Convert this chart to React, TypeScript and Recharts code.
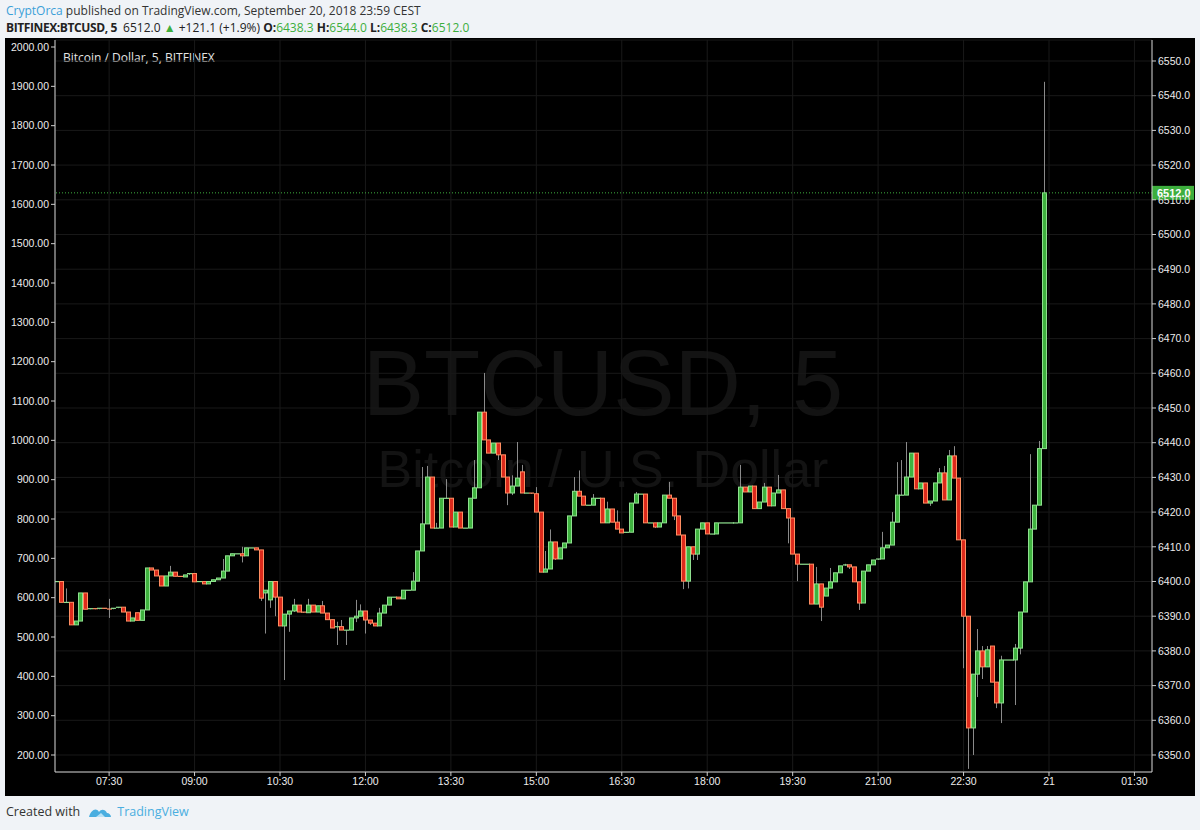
import React from 'react';
import { ComposedChart, Bar, XAxis, YAxis, CartesianGrid, ReferenceLine } from 'recharts';

// 5 minute candles, first one opens 06:35
const startMinute = 395;
const stepMinutes = 5;
const firstOpen = 6400;

const closes = [
  6400, 6394, 6394, 6387.5, 6388.6, 6396.7, 6392, 6392.2, 6392, 6392.3,
  6392.1, 6392, 6392.3, 6392.6, 6391.2, 6388.6, 6389.5, 6388.8, 6391.8, 6403.9,
  6403.3, 6401.6, 6398.7, 6401.6, 6402.7, 6401.5, 6401.3, 6401.9, 6402.3, 6399.9,
  6400, 6399.3, 6400, 6400.5, 6401, 6403, 6407.4, 6408, 6408, 6407.4,
  6409.7, 6409.7, 6409.1, 6395.2, 6397.5, 6400, 6395.5, 6387.2, 6390.6, 6391.5,
  6393.2, 6391.2, 6391, 6393.2, 6391.2, 6393, 6390.9, 6389, 6386.6, 6387,
  6386, 6386, 6389.5, 6390, 6391.5, 6388.9, 6388, 6387.2, 6390.9, 6393.2,
  6395.5, 6395.5, 6395, 6397.5, 6397.5, 6400.1, 6408.8, 6416.6, 6430.1, 6415.4,
  6415.4, 6424, 6424, 6415.7, 6420, 6415.4, 6415.4, 6424, 6427, 6448.8,
  6440.8, 6437, 6439.9, 6436.5, 6430.1, 6425.5, 6427.5, 6429.8, 6425.5, 6425.5,
  6425.3, 6420, 6402.7, 6403.6, 6411.4, 6406.5, 6409.7, 6411.1, 6418.9, 6426,
  6424.6, 6422, 6422, 6424, 6424, 6416.9, 6420.9, 6417.1, 6415.1, 6414,
  6414.2, 6422.6, 6425.2, 6425.2, 6416.9, 6416.9, 6415.7, 6416.9, 6424.9, 6424,
  6418.9, 6413.4, 6400.1, 6410, 6407.9, 6415.1, 6416.9, 6413.7, 6413.7, 6416.9,
  6416.9, 6416.9, 6416.9, 6416.9, 6427.2, 6425.8, 6427.5, 6421, 6422.9, 6427.2,
  6421.8, 6425.5, 6426.4, 6421, 6418.3, 6407.9, 6405, 6405, 6405, 6393.5,
  6399.3, 6392.6, 6398.1, 6399.9, 6402.5, 6404.5, 6404.8, 6404.2, 6399.9, 6393.8,
  6403, 6404.8, 6406.2, 6406.5, 6409.7, 6410.5, 6417.1, 6424.9, 6424.9, 6430.1,
  6437, 6426.7, 6428.4, 6422.6, 6423.2, 6428.4, 6431.3, 6423.5, 6436.2, 6429.8,
  6412, 6390, 6357.8, 6373.3, 6380, 6375.4, 6380.3, 6371, 6365, 6377.4,
  6377.4, 6377.4, 6380.8, 6391.2, 6399.9, 6415.1, 6422, 6438.3, 6512,
];

// opens that do not sit on the previous close: [candle index, open]
const openGaps: [number, number][] = [
  [17, 6391], [44, 6396.7], [45, 6394.7], [98, 6431.6], [162, 6395.8], [197, 6381.4],
];

// wick ends: [candle index, price]
const wickHighs: [number, number][] = [
  [2, 6398], [11, 6395], [24, 6404.5], [35, 6406.5], [39, 6410], [47, 6394.7],
  [50, 6395], [53, 6395], [56, 6394.4], [59, 6388.4], [60, 6388.9], [63, 6394.7],
  [64, 6393.4], [68, 6392.4], [75, 6402.7], [77, 6433], [78, 6433.3], [80, 6416.9],
  [82, 6429.5], [88, 6435], [90, 6460.1], [96, 6430.6], [97, 6440.2], [98, 6433.6],
  [101, 6427.2], [103, 6408.8], [104, 6415], [109, 6430.1], [110, 6432], [113, 6425.2],
  [116, 6423], [118, 6420.5], [122, 6425.8], [129, 6428.7], [144, 6433.6], [149, 6428.4],
  [152, 6430.7], [160, 6404.2], [163, 6403.9], [166, 6405.1], [174, 6414.3], [176, 6420],
  [177, 6434.4], [178, 6435], [179, 6440.2], [186, 6432.7], [187, 6433.3], [188, 6437.9],
  [189, 6439], [194, 6386.3], [195, 6381.4], [196, 6381.4], [199, 6378.6], [202, 6382],
  [205, 6436.7], [207, 6440.5], [208, 6544],
];

const wickLows: [number, number][] = [
  [11, 6389.5], [39, 6405.5], [43, 6394.4], [44, 6385], [45, 6392.4], [46, 6390],
  [48, 6371.6], [49, 6385.5], [50, 6391.2], [59, 6381.7], [61, 6381.7], [63, 6388.3],
  [65, 6385], [66, 6387.5], [93, 6435], [95, 6422], [96, 6424.9], [105, 6406.2],
  [109, 6419.7], [126, 6415.4], [130, 6417.7], [132, 6397.8], [133, 6398], [134, 6406.2],
  [135, 6406.2], [154, 6411], [156, 6400.1], [161, 6388.6], [167, 6403.6], [169, 6391.8],
  [184, 6421.8], [191, 6375], [192, 6346], [193, 6350], [194, 6366.7], [195, 6371.9],
  [198, 6363.5], [199, 6359.2], [202, 6364.4], [203, 6379],
];

const lastPrice = 6512;
const priceTicks = [
  6350, 6360, 6370, 6380, 6390, 6400, 6410, 6420, 6430, 6440, 6450,
  6460, 6470, 6480, 6490, 6500, 6510, 6520, 6530, 6540, 6550,
];
const leftTicks = [
  200, 300, 400, 500, 600, 700, 800, 900, 1000, 1100, 1200, 1300, 1400,
  1500, 1600, 1700, 1800, 1900, 2000,
];
const timeTicks = [450, 540, 630, 720, 810, 900, 990, 1080, 1170, 1260, 1350, 1440, 1530];
const timeLabels = ['07:30', '09:00', '10:30', '12:00', '13:30', '15:00', '16:30', '18:00', '19:30', '21:00', '22:30', '21', '01:30'];

const highMap = new Map(wickHighs);
const lowMap = new Map(wickLows);
const openMap = new Map(openGaps);

const candles = closes.map((c, i) => {
  const o = openMap.get(i) ?? (i === 0 ? firstOpen : closes[i - 1]);
  const h = Math.max(o, c, highMap.get(i) ?? -Infinity);
  const l = Math.min(o, c, lowMap.get(i) ?? Infinity);
  return { t: startMinute + i * stepMinutes, o, h, l, c, range: [l, h > l ? h : h + 0.01] };
});

const UP = '#3fb23f';
const UP_EDGE = '#8fe08f';
const DOWN = '#dc2a1c';
const DOWN_EDGE = '#ff8e62';
const ARIAL = 'Liberation Sans, Arial, sans-serif';

const Candle = (props: any) => {
  const { x, y, width, height, payload } = props;
  if (!payload) return null;
  const { o, c, h, l, range } = payload;
  const top = Math.min(y, y + height);
  const k = Math.abs(height) / (range[1] - range[0]);
  const yOf = (v: number) => top + (range[1] - v) * k;
  const cx = Math.round(x + width / 2) + 0.5;
  const up = c >= o;
  const bTop = yOf(Math.max(o, c));
  const bBot = yOf(Math.min(o, c));
  return (
    <g>
      <line x1={cx} x2={cx} y1={yOf(h)} y2={yOf(l)} stroke="#8a8a8a" strokeWidth={1} />
      {bBot - bTop < 1.5 ? (
        <rect x={cx - 2.5} y={bTop - 0.5} width={5} height={1.2} fill={up ? UP_EDGE : DOWN_EDGE} />
      ) : (
        <rect x={cx - 2} y={bTop} width={4} height={bBot - bTop} fill={up ? UP : DOWN}
          stroke={up ? UP_EDGE : DOWN_EDGE} strokeWidth={1} />
      )}
    </g>
  );
};

const PriceTag = (props: any) => {
  const vb = props.viewBox;
  if (!vb) return null;
  const x = vb.x + vb.width;
  return (
    <g>
      <rect x={x} y={vb.y - 7} width={42} height={14} fill="#3dae3d" />
      <text x={x + 5} y={vb.y + 4} fill="#ffffff" fontSize={11} fontWeight="bold" fontFamily={ARIAL}>
        {lastPrice.toFixed(1)}
      </text>
    </g>
  );
};

const axisFont = { fill: '#ececec', fontSize: 10.5, fontFamily: ARIAL };
const tight = { letterSpacing: -0.4 };

const App: React.FC = () => {
  return (
    <div style={{ position: 'absolute', left: 0, top: 0, width: 1200, height: 830, background: '#f0f3f7', fontFamily: '"Open Sans", "Noto Sans", sans-serif' }}>
      <div style={{ position: 'absolute', left: 6, top: 2, fontSize: 12, color: '#333', whiteSpace: 'nowrap' }}>
        <span style={{ color: '#3aa0d8' }}>CryptOrca</span> published on TradingView.com, September 20, 2018 23:59 CEST
      </div>
      <div style={{ position: 'absolute', left: 6, top: 19, fontSize: 12, color: '#222', whiteSpace: 'nowrap' }}>
        <b style={tight}>BITFINEX:BTCUSD, 5</b>&nbsp; 6512.0 <span style={{ color: '#3dae3d' }}>▲</span> +121.1 (+1.9%){' '}
        <b>O:</b><span style={{ color: '#3dae3d' }}>6438.3</span>{' '}
        <b>H:</b><span style={{ color: '#3dae3d' }}>6544.0</span>{' '}
        <b>L:</b><span style={{ color: '#3dae3d' }}>6438.3</span>{' '}
        <b>C:</b><span style={{ color: '#3dae3d' }}>6512.0</span>
      </div>

      <div style={{ position: 'absolute', left: 5, top: 38, width: 1190, height: 758, background: '#000' }}>
        <svg width={1190} height={758} style={{ position: 'absolute', left: 0, top: 0 }}>
          <text x={598} y={377} textAnchor="middle" fontSize={92} fill="#131313" fontFamily={ARIAL}>BTCUSD, 5</text>
          <text x={598} y={449} textAnchor="middle" fontSize={52} fill="#131313" fontFamily={ARIAL}>Bitcoin / U.S. Dollar</text>
        </svg>
        <div style={{ position: 'absolute', left: 58, top: 11, fontSize: 12, color: '#e4e4e4', whiteSpace: 'nowrap' }}>
          Bitcoin / Dollar, 5, BITFINEX
        </div>
        <div style={{ position: 'absolute', left: 0, top: 0 }}>
          <ComposedChart width={1190} height={758} data={candles} margin={{ top: 2, right: 0, bottom: 0, left: 0 }}>
            <CartesianGrid yAxisId="right" stroke="#191919" />
            <XAxis type="number" dataKey="t" domain={[393, 1548.5]} allowDataOverflow ticks={timeTicks}
              interval={0} height={24} tickSize={4} stroke="#cfcfcf" tick={axisFont}
              tickFormatter={(v: number) => timeLabels[timeTicks.indexOf(v)] ?? ''} />
            <YAxis yAxisId="left" orientation="left" type="number" domain={[156.8, 2017.8]} allowDataOverflow
              ticks={leftTicks} interval={0} width={50} tickSize={4} stroke="#cfcfcf" tick={axisFont}
              tickFormatter={(v: number) => v.toFixed(2)} />
            <YAxis yAxisId="right" orientation="right" type="number" domain={[6345.1, 6556.05]} allowDataOverflow
              ticks={priceTicks} interval={0} width={43} tickSize={4} stroke="#cfcfcf" tick={axisFont}
              tickFormatter={(v: number) => v.toFixed(1)} />
            <Bar yAxisId="right" dataKey="range" barSize={4} shape={(p: any) => <Candle {...p} />} isAnimationActive={false} />
            <ReferenceLine yAxisId="right" y={lastPrice} stroke="#3dae3d" strokeDasharray="1 2" label={{ content: PriceTag }} />
          </ComposedChart>
        </div>
      </div>

      <div style={{ position: 'absolute', left: 6, top: 803, fontSize: 12.5, color: '#333', display: 'flex', alignItems: 'center', whiteSpace: 'nowrap' }}>
        <span>Created with</span>
        <svg width={24} height={16} style={{ marginLeft: 8, marginRight: 5 }} viewBox="0 0 24 16">
          <path d="M1 13 C3 6 8 3 11 8 C13 5 17 5 19 9 C21 9 23 11 23 13 Z" fill="#4aaee0" />
          <path d="M8 13 L13 9 L17 13 Z" fill="#b9e2f6" />
        </svg>
        <span style={{ color: '#4aaee0' }}>TradingView</span>
      </div>
    </div>
  );
};

export default App;
